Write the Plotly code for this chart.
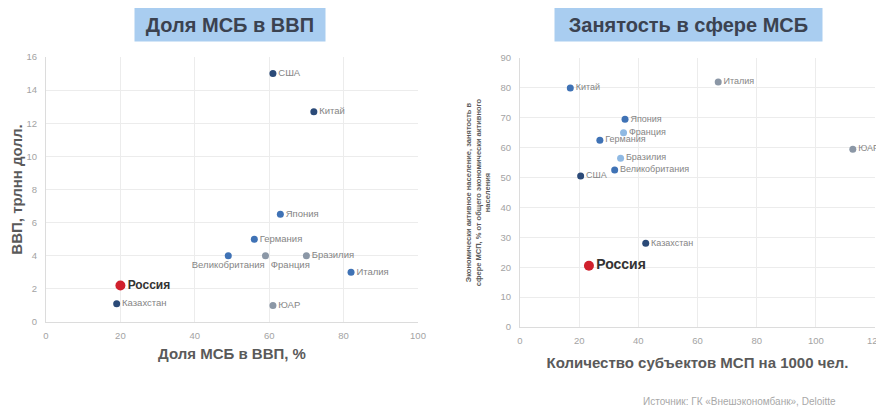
import plotly.graph_objects as go

# Left chart: SME share of GDP vs GDP
left_countries = ["США", "Китай", "Япония", "Германия", "Великобритания", "Франция",
                  "Бразилия", "Италия", "ЮАР", "Казахстан", "Россия"]
left_share = [61, 72, 63, 56, 49, 59, 70, 82, 61, 19, 20]
left_gdp = [15.0, 12.7, 6.5, 5.0, 4.0, 4.0, 4.0, 3.0, 1.0, 1.1, 2.2]

# Right chart: SME entities per 1000 people vs SME employment
right_countries = ["Китай", "Италия", "Япония", "Франция", "Германия", "Бразилия",
                   "Великобритания", "США", "ЮАР", "Казахстан", "Россия"]
right_entities = [17, 67, 35.5, 35, 27, 34, 32, 20.5, 112.5, 42.5, 23.3]
right_employment = [80, 82, 69.5, 65, 62.5, 56.5, 52.5, 50.5, 59.5, 28, 20.5]

left_x_ticks = [0, 20, 40, 60, 80, 100]
left_y_ticks = [0, 2, 4, 6, 8, 10, 12, 14, 16]
right_x_ticks = [0, 20, 40, 60, 80, 100, 120]
right_y_ticks = [0, 10, 20, 30, 40, 50, 60, 70, 80, 90]

# styles
NAVY = "#2b4a78"
MID = "#3f72b5"
LIGHT = "#8fb9e3"
GREY = "#8b97a6"
RED = "#d0202c"

left_colors = {"США": NAVY, "Китай": NAVY, "Япония": MID, "Германия": MID,
               "Великобритания": MID, "Франция": GREY, "Бразилия": GREY,
               "Италия": MID, "ЮАР": GREY, "Казахстан": NAVY, "Россия": RED}
right_colors = {"Китай": MID, "Италия": GREY, "Япония": MID, "Франция": LIGHT,
                "Германия": MID, "Бразилия": LIGHT, "Великобритания": MID,
                "США": NAVY, "ЮАР": GREY, "Казахстан": NAVY, "Россия": RED}
left_pos = {"Великобритания": "bottom center", "Франция": "bottom right"}

FONT = "Liberation Sans, Arial, sans-serif"
W, H, OFF = 884, 410, 8  # page body margin offset


def px(p):
    return (p - OFF) / W


def py(p):
    return 1 - (p - OFF) / H


fig = go.Figure()


def add_points(names, xs, ys, colors, positions, xa, ya, rus_size, lab_size):
    for n, x, y in zip(names, xs, ys):
        rus = n == "Россия"
        fig.add_trace(go.Scatter(
            x=[x], y=[y], mode="markers+text",
            text=["<b>" + n + "</b>" if rus else n],
            textposition=positions.get(n, "middle right"),
            textfont=dict(size=rus_size if rus else lab_size,
                          color="#333333" if rus else "#858585", family=FONT),
            marker=dict(size=10 if rus else 7, color=colors[n]),
            xaxis=xa, yaxis=ya, showlegend=False, cliponaxis=False,
            hoverinfo="skip"))


add_points(left_countries, left_share, left_gdp, left_colors, left_pos, "x", "y", 12, 9.5)
add_points(right_countries, right_entities, right_employment, right_colors, {}, "x2", "y2", 14, 9)

tickfont = dict(size=9.5, color="#a3a3a3", family=FONT)
titlefont = dict(size=15, color="#5a5a5a", family=FONT)
grid = "#ececec"
common = dict(tickfont=tickfont, showgrid=True, gridcolor=grid, zeroline=False,
              showline=True, linecolor="#dcdcdc", automargin=False)

fig.update_layout(
    width=W, height=H,
    margin=dict(l=0, r=0, t=0, b=0),
    paper_bgcolor="white", plot_bgcolor="white",
    xaxis=dict(domain=[px(46), px(418)], range=[0, 100], tickvals=left_x_ticks,
               anchor="y", ticks="outside", ticklen=5, tickcolor="white",
               title=dict(text="<b>Доля МСБ в ВВП, %</b>", font=titlefont, standoff=8),
               **common),
    yaxis=dict(domain=[py(322), py(57)], range=[0, 16], tickvals=left_y_ticks,
               anchor="x", ticks="outside", ticklen=6, tickcolor="white",
               title=dict(text="<b>ВВП, трлнн долл.</b>", font=titlefont, standoff=8),
               **common),
    xaxis2=dict(domain=[px(520), px(875)], range=[0, 120], tickvals=right_x_ticks,
                anchor="y2", ticks="outside", ticklen=5, tickcolor="white",
                title=dict(text="<b>Количество субъектов МСП на 1000 чел.</b>",
                           font=titlefont, standoff=12),
                **common),
    yaxis2=dict(domain=[py(327), py(58)], range=[0, 90], tickvals=right_y_ticks,
                anchor="x2", ticks="outside", ticklen=6, tickcolor="white",
                title=dict(text="<b>Экономически активное население, занятость в<br>"
                                "сфере МСП, % от общего экономически активного<br>"
                                "населения</b>",
                           font=dict(size=7.5, color="#5a5a5a", family=FONT), standoff=8),
                **common),
    annotations=[
        dict(text="<b>Доля МСБ в ВВП</b>", x=px(230), y=py(24),
             xanchor="center", yanchor="middle",
             xref="paper", yref="paper", showarrow=False,
             font=dict(size=20, color="#3b4250", family=FONT),
             bgcolor="#a9cdf0", width=188, height=31),
        dict(text="<b>Занятость в сфере МСБ</b>", x=px(688), y=py(24),
             xanchor="center", yanchor="middle",
             xref="paper", yref="paper", showarrow=False,
             font=dict(size=20, color="#3b4250", family=FONT),
             bgcolor="#a9cdf0", width=265, height=31),
        dict(text="Источник: ГК «Внешэкономбанк», Deloitte", x=px(739), y=py(401),
             xanchor="center", yanchor="middle",
             xref="paper", yref="paper", showarrow=False,
             font=dict(size=10, color="#a8a8a8", family=FONT)),
    ],
)

fig.write_html("out.html")
